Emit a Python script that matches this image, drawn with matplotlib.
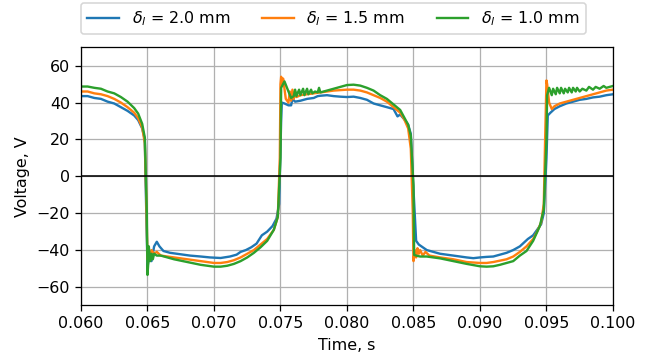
import numpy as np
import matplotlib
matplotlib.use("Agg")
import matplotlib.pyplot as plt

# delta_l = 2.0 mm
t_20 = [0.0600, 0.0605, 0.0610, 0.0615, 0.0620, 0.0625, 0.0630, 0.0635, 0.0640, 0.0643,
        0.0646, 0.0648, 0.06485, 0.0650, 0.0651, 0.0653, 0.0655, 0.0657, 0.0659, 0.0662,
        0.0667, 0.0672, 0.0677, 0.0682, 0.0690, 0.0697, 0.0705, 0.0712, 0.0717, 0.0720,
        0.0724, 0.0728, 0.0732, 0.0736, 0.0740, 0.0744, 0.0747, 0.0749, 0.07505, 0.0751,
        0.0753, 0.0756, 0.0758, 0.0759, 0.0761, 0.0765, 0.0770, 0.0775, 0.0778, 0.0780,
        0.0785, 0.0790, 0.0795, 0.0800, 0.0805, 0.0810, 0.0815, 0.0820, 0.0825, 0.0830,
        0.0835, 0.0838, 0.0840, 0.0843, 0.0846, 0.0848, 0.08495, 0.0852, 0.0854, 0.0856,
        0.0860, 0.0865, 0.0870, 0.0880, 0.0890, 0.0895, 0.0900, 0.0905, 0.0910, 0.0915,
        0.0920, 0.0925, 0.0930, 0.0933, 0.0936, 0.0940, 0.0943, 0.0946, 0.0948, 0.0950,
        0.0951, 0.0953, 0.0956, 0.0960, 0.0965, 0.0970, 0.0975, 0.0980, 0.0985, 0.0990,
        0.0995, 0.1000]
v_20 = [43.5, 43.5, 42.5, 42.0, 40.5, 39.5, 37.5, 35.5, 33.0, 30.5,
        26.0, 20.0, 0.0, -49.0, -45.0, -46.0, -38.0, -35.5, -38.0, -40.5,
        -41.5, -42.0, -42.5, -43.0, -43.5, -44.0, -44.3, -43.5, -42.5, -41.0,
        -40.0, -38.5, -36.5, -32.0, -30.0, -27.0, -23.0, -15.0, 30.0, 40.0,
        39.5, 38.5, 38.5, 42.0, 40.5, 41.0, 42.0, 42.5, 43.5, 43.7,
        44.0, 43.5, 43.2, 43.0, 43.2, 42.5, 41.5, 39.5, 38.5, 37.5,
        36.5, 32.5, 33.5, 31.0, 28.0, 23.0, 0.0, -35.0, -37.0, -38.0,
        -40.0, -41.0, -42.0, -43.0, -44.0, -44.4, -44.0, -43.7, -43.5, -42.5,
        -41.5, -40.0, -38.0, -36.0, -34.0, -32.0, -29.0, -26.0, -20.0, 10.0,
        33.0, 34.5, 36.5, 38.0, 39.5, 40.5, 41.5, 42.0, 42.8, 43.2,
        44.0, 44.5]

# delta_l = 1.5 mm
t_15 = [0.0600, 0.0605, 0.0610, 0.0615, 0.0620, 0.0625, 0.0630, 0.0635, 0.0640, 0.0643,
        0.0646, 0.0648, 0.0649, 0.0650, 0.0651, 0.0652, 0.0653, 0.0655, 0.0657, 0.0660,
        0.0665, 0.0670, 0.0680, 0.0690, 0.0700, 0.0705, 0.0710, 0.0715, 0.0720, 0.0725,
        0.0730, 0.0735, 0.0740, 0.0745, 0.0748, 0.07495, 0.0750, 0.07505, 0.0751, 0.0752,
        0.0754, 0.0756, 0.0757, 0.0758, 0.0759, 0.0760, 0.0761, 0.0762, 0.0765, 0.0770,
        0.0775, 0.0780, 0.0790, 0.0800, 0.0805, 0.0810, 0.0815, 0.0820, 0.0825, 0.0830,
        0.0835, 0.0840, 0.0843, 0.0846, 0.0848, 0.08495, 0.0850, 0.0851, 0.0852, 0.0853,
        0.0854, 0.0855, 0.0857, 0.0859, 0.0862, 0.0870, 0.0880, 0.0890, 0.0900, 0.0905,
        0.0910, 0.0920, 0.0925, 0.0930, 0.0935, 0.0940, 0.0943, 0.0946, 0.0948, 0.0949,
        0.0950, 0.09505, 0.0952, 0.0954, 0.0956, 0.0960, 0.0965, 0.0970, 0.0975, 0.0980,
        0.0985, 0.0990, 0.0995, 0.1000]
v_15 = [46.0, 46.0, 45.0, 44.5, 43.5, 42.0, 40.0, 37.5, 34.5, 31.5,
        26.5, 18.0, -10.0, -45.0, -41.0, -44.0, -40.0, -42.0, -41.0, -43.0,
        -43.5, -44.0, -45.0, -46.0, -47.0, -47.0, -46.5, -45.5, -44.0, -42.0,
        -40.0, -37.0, -34.0, -29.0, -22.0, 10.0, 50.0, 54.0, 50.0, 53.0,
        42.0, 40.0, 46.0, 41.0, 47.0, 42.0, 46.0, 43.0, 44.0, 44.5,
        45.0, 45.5, 46.5, 47.0, 47.0, 46.5, 45.5, 44.0, 42.5, 40.5,
        37.5, 34.5, 31.0, 26.0, 15.0, -20.0, -46.0, -40.0, -44.0, -39.0,
        -42.0, -40.0, -43.0, -41.0, -43.0, -44.0, -45.0, -46.5, -47.0, -47.0,
        -46.5, -45.0, -43.5, -41.0, -38.0, -34.0, -30.0, -25.0, -15.0, 20.0,
        52.0, 50.0, 40.0, 36.5, 38.0, 39.5, 40.5, 41.5, 42.5, 43.5,
        44.5, 45.5, 46.5, 47.0]

# delta_l = 1.0 mm
t_10 = [0.0600, 0.0605, 0.0610, 0.0615, 0.0620, 0.0625, 0.0630, 0.0635, 0.0640, 0.0643,
        0.0646, 0.0648, 0.06495, 0.0650, 0.06505, 0.0651, 0.0652, 0.0653, 0.0654, 0.0655,
        0.0657, 0.0660, 0.0665, 0.0670, 0.0680, 0.0690, 0.0700, 0.0705, 0.0710, 0.0715,
        0.0720, 0.0725, 0.0730, 0.0735, 0.0740, 0.0745, 0.0748, 0.0750, 0.07505, 0.0753,
        0.0756, 0.0758, 0.0760, 0.0761, 0.0762, 0.0764, 0.0765, 0.0767, 0.0768, 0.0770,
        0.0771, 0.0773, 0.0774, 0.0776, 0.0778, 0.0779, 0.0780, 0.0785, 0.0790, 0.0795,
        0.0800, 0.0805, 0.0810, 0.0815, 0.0820, 0.0825, 0.0830, 0.0835, 0.0840, 0.0843,
        0.0846, 0.0848, 0.0850, 0.08505, 0.0852, 0.0855, 0.0860, 0.0870, 0.0880, 0.0890,
        0.0900, 0.0905, 0.0910, 0.0915, 0.0920, 0.0925, 0.0930, 0.0935, 0.0940, 0.0945,
        0.0948, 0.0950, 0.09505, 0.0952, 0.0954, 0.0955, 0.0957, 0.0958, 0.0960, 0.0961,
        0.0963, 0.0964, 0.0966, 0.0967, 0.0969, 0.0970, 0.0972, 0.0973, 0.0975, 0.0977,
        0.0980, 0.0982, 0.0985, 0.0987, 0.0990, 0.0993, 0.0995, 0.1000]
v_10 = [48.7, 48.7, 48.0, 47.5, 46.0, 45.0, 43.0, 40.5, 37.0, 34.0,
        28.5, 21.0, -20.0, -53.5, -48.0, -38.0, -46.0, -42.0, -45.0, -42.0,
        -43.0, -43.0, -44.0, -45.0, -46.5, -48.0, -49.0, -49.0, -48.5, -47.5,
        -46.0, -44.0, -41.5, -38.5, -35.0, -29.0, -22.0, 10.0, 48.0, 51.5,
        46.0, 42.5, 43.5, 47.0, 43.5, 47.0, 44.0, 47.5, 44.0, 47.5,
        44.5, 47.0, 45.0, 46.0, 45.5, 48.0, 45.5, 46.5, 47.5, 48.5,
        49.5, 49.7, 49.2, 48.0, 46.5, 44.0, 42.0, 39.0, 36.0, 32.0,
        28.0, 22.0, -5.0, -42.6, -43.0, -43.5, -43.5, -44.5, -46.0, -47.5,
        -48.8, -49.0, -48.8, -48.0, -47.0, -46.0, -43.0, -40.5, -35.0, -27.0,
        -18.0, 20.0, 44.0, 48.0, 44.0, 47.5, 44.5, 48.0, 45.0, 48.0,
        45.0, 47.5, 45.5, 48.0, 45.5, 48.0, 46.0, 48.0, 46.0, 47.5,
        46.5, 48.5, 47.0, 48.5, 47.5, 49.0, 48.0, 49.0]

labels = [r'$\delta_l$ = 2.0 mm', r'$\delta_l$ = 1.5 mm', r'$\delta_l$ = 1.0 mm']

dpi = 114
fig, ax = plt.subplots(figsize=(650 / dpi, 358 / dpi), dpi=dpi)
fig.subplots_adjust(left=0.1246, right=0.943, top=0.868, bottom=0.147)

ax.plot(t_20, v_20, color='tab:blue', lw=1.5, label=labels[0])
ax.plot(t_15, v_15, color='tab:orange', lw=1.5, label=labels[1])
ax.plot(t_10, v_10, color='tab:green', lw=1.5, label=labels[2])
ax.axhline(0, color='black', lw=1)

ax.set_xlim(0.06, 0.1)
ax.set_ylim(-70, 70)
ax.set_xticks(np.arange(0.06, 0.1001, 0.005))
ax.set_yticks(np.arange(-60, 61, 20))
ax.grid(True)
ax.set_xlabel('Time, s')
ax.set_ylabel('Voltage, V')
ax.legend(loc='lower left', bbox_to_anchor=(0, 1.05), ncol=3, borderaxespad=0)

fig.savefig('out.png', dpi=dpi)
